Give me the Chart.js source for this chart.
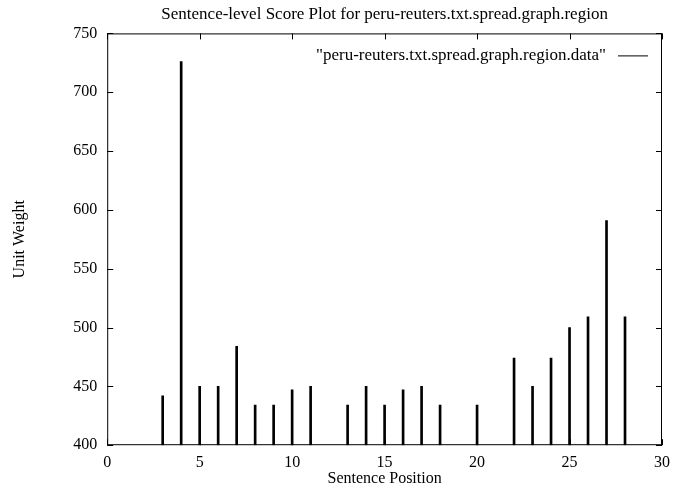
<!DOCTYPE html>
<html lang="en">
<head>
    <meta charset="UTF-8">
    <title>Sentence-level Score Plot</title>
    <script src="https://cdn.jsdelivr.net/npm/chart.js@4.4.0/dist/chart.umd.min.js"></script>
    <style>
        html, body { margin: 0; padding: 0; background: white; }
        #wrap { width: 675px; height: 491px; }
    </style>
</head>
<body>
<div id="wrap"><canvas id="myChart" width="675" height="491"></canvas></div>
<script>
    // sentence positions and their unit weights
    var positions = [3, 4, 5, 6, 7, 8, 9, 10, 11, 13, 14, 15, 16, 17, 18, 20, 22, 23, 24, 25, 26, 27, 28];
    var weights   = [442, 726, 450, 450, 484, 434, 434, 447, 450, 434, 450, 434, 447, 450, 434, 434, 474, 450, 474, 500, 509, 591, 509];
    var seriesLabel = '"peru-reuters.txt.spread.graph.region.data"';
    var titleText = 'Sentence-level Score Plot for peru-reuters.txt.spread.graph.region';

    var serif = "'Liberation Serif', 'DejaVu Serif', serif";

    var points = positions.map(function (p, i) { return { x: p, y: weights[i] }; });

    // gnuplot style frame, inward ticks and in-plot key
    var framePlugin = {
        id: 'frame',
        afterDraw: function (chart) {
            var ctx = chart.ctx, a = chart.chartArea;
            var xs = chart.scales.x, ys = chart.scales.y;
            ctx.save();
            ctx.strokeStyle = '#000';
            ctx.lineWidth = 1;
            ctx.strokeRect(a.left + 0.5, a.top + 0.5, a.right - a.left - 1, a.bottom - a.top - 1);
            var len = 6;
            ctx.beginPath();
            xs.ticks.forEach(function (t) {
                var px = Math.round(xs.getPixelForValue(t.value)) + 0.5;
                ctx.moveTo(px, a.bottom); ctx.lineTo(px, a.bottom - len);
                ctx.moveTo(px, a.top); ctx.lineTo(px, a.top + len);
            });
            ys.ticks.forEach(function (t) {
                var py = Math.round(ys.getPixelForValue(t.value)) + 0.5;
                ctx.moveTo(a.left, py); ctx.lineTo(a.left + len, py);
                ctx.moveTo(a.right, py); ctx.lineTo(a.right - len, py);
            });
            ctx.stroke();

            // key
            var label = chart.data.datasets[0].label;
            ctx.font = '17px ' + serif;
            ctx.fillStyle = '#000';
            ctx.textAlign = 'right';
            ctx.textBaseline = 'middle';
            var ky = a.top + 22;
            ctx.fillText(label, a.right - 56, ky);
            ctx.beginPath();
            ctx.moveTo(a.right - 44, ky + 0.5);
            ctx.lineTo(a.right - 14, ky + 0.5);
            ctx.stroke();
            ctx.restore();
        }
    };

    var ctx = document.getElementById('myChart').getContext('2d');
    var myChart = new Chart(ctx, {
        type: 'bar',
        data: {
            datasets: [{
                label: seriesLabel,
                data: points,
                backgroundColor: '#000',
                borderWidth: 0,
                barThickness: 2,
                base: 400
            }]
        },
        options: {
            responsive: false,
            animation: false,
            layout: { padding: { left: 10, right: 13, top: 0, bottom: 5 } },
            plugins: {
                legend: { display: false },
                tooltip: { enabled: false },
                title: {
                    display: true,
                    text: titleText,
                    fullSize: false,
                    color: '#000',
                    font: { family: serif, size: 17, weight: 'normal' },
                    padding: { top: 4, bottom: 9 }
                }
            },
            scales: {
                x: {
                    type: 'linear',
                    min: 0, max: 30,
                    offset: false,
                    grid: { display: false },
                    border: { display: false },
                    ticks: { stepSize: 5, color: '#000', font: { family: serif, size: 16 }, padding: 0, maxRotation: 0 },
                    title: { display: true, text: 'Sentence Position', color: '#000', font: { family: serif, size: 16, lineHeight: 0.85 }, padding: { top: 0, bottom: 0 } }
                },
                y: {
                    min: 400, max: 750,
                    grid: { display: false },
                    border: { display: false },
                    ticks: { stepSize: 50, color: '#000', font: { family: serif, size: 16 }, padding: 2 },
                    title: { display: true, text: 'Unit Weight', color: '#000', font: { family: serif, size: 16 }, padding: { top: 0, bottom: 42 } }
                }
            }
        },
        plugins: [framePlugin]
    });
</script>
</body>
</html>
